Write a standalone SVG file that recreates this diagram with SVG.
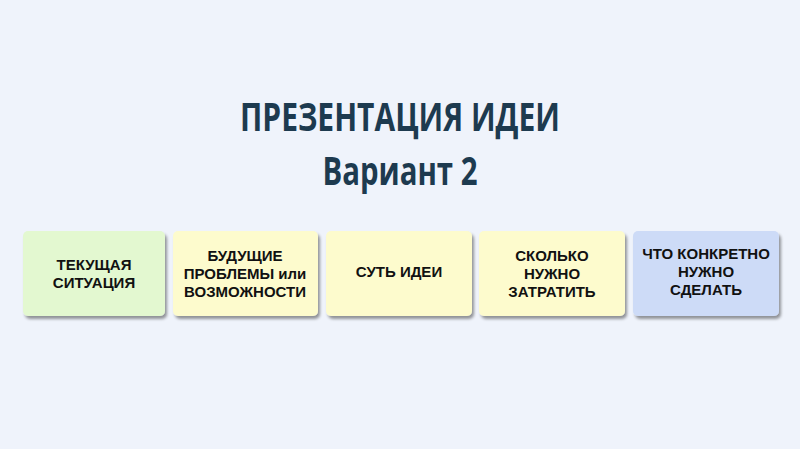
<svg xmlns="http://www.w3.org/2000/svg" width="800" height="449" viewBox="0 0 800 449">
<defs>
<filter id="sh" x="-10%" y="-10%" width="125%" height="130%">
<feGaussianBlur in="SourceAlpha" stdDeviation="1.6"/>
<feOffset dx="2" dy="3" result="b"/>
<feComponentTransfer><feFuncA type="linear" slope="0.4"/></feComponentTransfer>
<feMerge><feMergeNode/><feMergeNode in="SourceGraphic"/></feMerge>
</filter>
<style>
.title{font-family:"Open Sans","Noto Sans",sans-serif;font-weight:700;fill:#1d3a4f;text-anchor:middle}
.box{filter:url(#sh)}
.lbl{font-family:"Liberation Sans",Arial,sans-serif;font-weight:700;font-size:15px;fill:#111;text-anchor:middle}
.g{fill:#e3f8d0}.y{fill:#fdfbcd}.b{fill:#cddbf7}
</style>
</defs>
<rect width="800" height="449" fill="#eff3fb"/>
<text class="title" x="400" y="131" font-size="40" textLength="320" lengthAdjust="spacingAndGlyphs">ПРЕЗЕНТАЦИЯ ИДЕИ</text>
<text class="title" x="400" y="185" font-size="40" textLength="155" lengthAdjust="spacingAndGlyphs">Вариант 2</text>
<g id="n1"><rect class="box g" x="23" y="231" width="142" height="85" rx="5"/>
<text class="lbl" x="94" y="270">ТЕКУЩАЯ</text><text class="lbl" x="94" y="288">СИТУАЦИЯ</text></g>
<g id="n2"><rect class="box y" x="173" y="231" width="145" height="85" rx="5"/>
<text class="lbl" x="245" y="261">БУДУЩИЕ</text><text class="lbl" x="245" y="279">ПРОБЛЕМЫ или</text><text class="lbl" x="245" y="297">ВОЗМОЖНОСТИ</text></g>
<g id="n3"><rect class="box y" x="326" y="231" width="146" height="85" rx="5"/>
<text class="lbl" x="399" y="277">СУТЬ ИДЕИ</text></g>
<g id="n4"><rect class="box y" x="479" y="231" width="146" height="85" rx="5"/>
<text class="lbl" x="552" y="261">СКОЛЬКО</text><text class="lbl" x="552" y="279">НУЖНО</text><text class="lbl" x="552" y="297">ЗАТРАТИТЬ</text></g>
<g id="n5"><rect class="box b" x="633" y="231" width="146" height="85" rx="5"/>
<text class="lbl" x="706" y="259">ЧТО КОНКРЕТНО</text><text class="lbl" x="706" y="277">НУЖНО</text><text class="lbl" x="706" y="295">СДЕЛАТЬ</text></g>
<g id="connectors"/>
</svg>
